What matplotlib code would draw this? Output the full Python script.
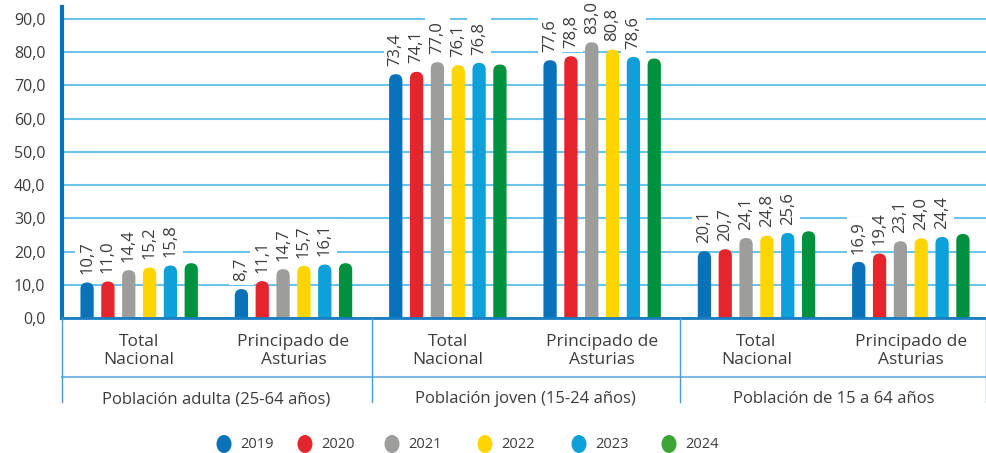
import matplotlib
matplotlib.use("Agg")
import matplotlib.pyplot as plt
from matplotlib.patches import FancyBboxPatch, Ellipse
from matplotlib.lines import Line2D
import numpy as np

plt.rcParams['font.family'] = ['Open Sans', 'DejaVu Sans']

# datos
categorias = ["Total\nNacional", "Principado de\nAsturias"] * 3
grupos = ["Población adulta (25-64 años)", "Población joven (15-24 años)", "Población de 15 a 64 años"]
anios = ["2019", "2020", "2021", "2022", "2023", "2024"]
v2019 = [10.7, 8.7, 73.4, 77.6, 20.1, 16.9]
v2020 = [11.0, 11.1, 74.1, 78.8, 20.7, 19.4]
v2021 = [14.4, 14.7, 77.0, 83.0, 24.1, 23.1]
v2022 = [15.2, 15.7, 76.1, 80.8, 24.8, 24.0]
v2023 = [15.8, 16.1, 76.8, 78.6, 25.6, 24.4]
v2024 = [16.5, 16.5, 76.3, 78.1, 26.1, 25.3]
series = [v2019, v2020, v2021, v2022, v2023, v2024]
etiquetas = [True, True, True, True, True, False]  # 2024 sin etiqueta

colores = ["#0a72b8", "#e4262c", "#9d9d9c", "#ffd500", "#0ea0d9", "#00913f"]
col_leyenda = ["#0a72b8", "#e4262c", "#9d9d9c", "#ffd500", "#0ea0d9", "#3da535"]
texto = "#3c3c3b"

W, H = 987, 453
fig = plt.figure(figsize=(W / 100, H / 100), dpi=100)
ax_l, ax_r, ax_b, ax_t = 62, 988, 318, 7
ax = fig.add_axes([ax_l / W, (H - ax_b) / H, (ax_r - ax_l) / W, (ax_b - ax_t) / H])

ymax = (318 - 7) / ((318 - 19) / 90)
ax.set_xlim(-0.5, 5.5)
ax.set_ylim(0, ymax)

# escala px por unidad para redondear las barras
px_x = (ax_r - ax_l) / 6
px_y = (ax_b - ax_t) / ymax
aspecto = px_x / px_y

paso = 0.135
ancho = 0.086
x = np.arange(6)
for i, (vals, col) in enumerate(zip(series, colores)):
    xs = x + (i - 2.5) * paso
    for xi, v in zip(xs, vals):
        r = ancho / 2
        caja = FancyBboxPatch((xi - ancho / 2, -6), ancho, v + 6,
                              boxstyle=f"round,pad=0,rounding_size={r}",
                              mutation_aspect=aspecto, fc=col, ec="none", zorder=3)
        ax.add_patch(caja)
        if etiquetas[i]:
            ax.annotate(f"{v:.1f}".replace(".", ","), (xi, v), xytext=(0, 6),
                        textcoords="offset points", rotation=90, ha="center", va="bottom",
                        fontsize=12, color=texto, zorder=4,
                        bbox=dict(boxstyle="square,pad=0.25", fc="white", ec="none"))

ax.set_yticks(np.arange(0, 91, 10))
ax.set_yticklabels([f"{t:.1f}".replace(".", ",") for t in np.arange(0, 91, 10)], fontsize=11.5, color=texto)
ax.grid(axis="y", color="#6cc4ea", lw=1.5, zorder=0)
ax.tick_params(axis="y", length=0, pad=12)
ax.set_xticks([])
for s in ["top", "right"]:
    ax.spines[s].set_visible(False)
ax.spines["left"].set_color("#0a72b8")
ax.spines["left"].set_linewidth(3)
ax.spines["bottom"].set_color("#1a7cc1")
ax.spines["bottom"].set_linewidth(2)
ax.spines["bottom"].set_zorder(5)


def fx(px):
    return px / W


def fy(py):
    return (H - py) / H


# tabla de categorías bajo el eje
fig.add_artist(Line2D([fx(62), fx(987)], [fy(377), fy(377)], color="#7fb8e0", lw=1.5))
for xl in [62, 372, 680, 986]:
    fig.add_artist(Line2D([fx(xl), fx(xl)], [fy(318), fy(402)], color="#4a9ad4", lw=1))

for i, cat in enumerate(categorias):
    fig.text(fx(ax_l + px_x * (i + 0.5)), fy(351), cat, ha="center", va="center",
             fontsize=12.5, color=texto, linespacing=1.25)
for j, g in enumerate(grupos):
    fig.text(fx(ax_l + px_x * (2 * j + 1)), fy(399), g, ha="center", va="center",
             fontsize=12, color=texto)

# leyenda
marcas = [224, 305, 392, 485, 579, 669]
for a, c, mx in zip(anios, col_leyenda, marcas):
    fig.add_artist(Ellipse((fx(mx), fy(444)), 15 / W, 18 / H, transform=fig.transFigure,
                           fc=c, ec="none"))
    fig.text(fx(mx + 16), fy(444), a, ha="left", va="center", fontsize=10.5, color=texto)

fig.savefig("out.png", dpi=100)
